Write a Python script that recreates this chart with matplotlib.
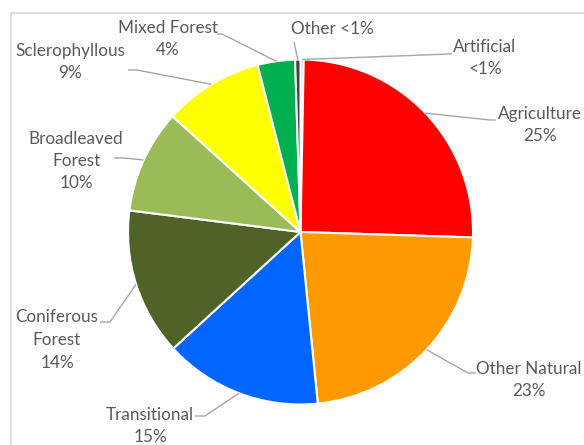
import matplotlib.pyplot as plt
import numpy as np
from matplotlib.lines import Line2D

# slices, clockwise from 12 o'clock
categories = [
    "Artificial", "Agriculture", "Other Natural", "Transitional",
    "Coniferous\nForest", "Broadleaved\nForest", "Sclerophyllous",
    "Mixed Forest", "Other",
]
shares = [0.3, 25.2, 22.9, 14.8, 13.8, 9.7, 9.3, 3.5, 0.5]
pct_labels = ["<1%", "25%", "23%", "15%", "14%", "10%", "9%", "4%", "<1%"]
colors = [
    "#CC99FF", "#FF0000", "#FF9900", "#0066FF", "#4F6228",
    "#9BBB59", "#FFFF00", "#00B050", "#404040",
]

# layout in pixels (figure is 584 x 445)
W, H = 584, 445
CX, CY, R = 300.5, 232.0, 172.5
# text block centre, elbow of leader line, end of leader line (at text)
label_layout = [
    ((485, 58), (450, 54), (452, 54)),
    ((540, 125), (490, 120), (496, 120)),
    ((529, 380), (468, 373), (476, 373)),
    ((150, 426), (205, 416), (195, 416)),
    ((57, 340), (110, 322), (100, 322)),
    ((76, 161), (125, 158), (114, 158)),
    ((70, 62), (137, 70), (128, 70)),
    ((168, 39), (222, 34), (217, 34)),
    ((332, 29), (294, 42), (294, 42)),
]


def px(x, y):
    return (x - CX) / R, (CY - y) / R


plt.rcParams["font.family"] = ["Lato", "DejaVu Sans"]

fig = plt.figure(figsize=(W / 100, H / 100), dpi=100)
ax = fig.add_axes([0, 0, 1, 1])

wedges, _ = ax.pie(
    shares,
    colors=colors,
    startangle=90,
    counterclock=False,
    radius=1.0,
    wedgeprops=dict(edgecolor="white", linewidth=1.5),
)
ax.set_aspect("auto")
ax.set_xlim(px(0, 0)[0], px(W, 0)[0])
ax.set_ylim(px(0, H)[1], px(0, 0)[1])
ax.axis("off")

line_color = "#A6A6A6"
text_color = "#595959"
for w, name, pct, (tc, elbow, end) in zip(wedges, categories, pct_labels, label_layout):
    mid = np.deg2rad((w.theta1 + w.theta2) / 2)
    anchor = (np.cos(mid), np.sin(mid))
    e = px(*elbow)
    t = px(*end)
    ax.plot([anchor[0], e[0], t[0]], [anchor[1], e[1], t[1]],
            color=line_color, lw=1.0, solid_capstyle="butt", zorder=1)
    if name == "Other":
        txt = f"{name} {pct}"
    else:
        txt = f"{name}\n{pct}"
    ax.text(*px(*tc), txt, ha="center", va="center", fontsize=12.3,
            color=text_color, linespacing=1.5, multialignment="center",
            clip_on=False)

# chart area border (only top and left edges are visible)
border = "#D9D9D9"
fig.add_artist(Line2D([10.5 / W, 10.5 / W], [0, 1 - 12.5 / H],
                      transform=fig.transFigure, color=border, lw=1.2))
fig.add_artist(Line2D([10.5 / W, 1], [1 - 12.5 / H, 1 - 12.5 / H],
                      transform=fig.transFigure, color=border, lw=1.2))

fig.savefig("out.png", dpi=100)
